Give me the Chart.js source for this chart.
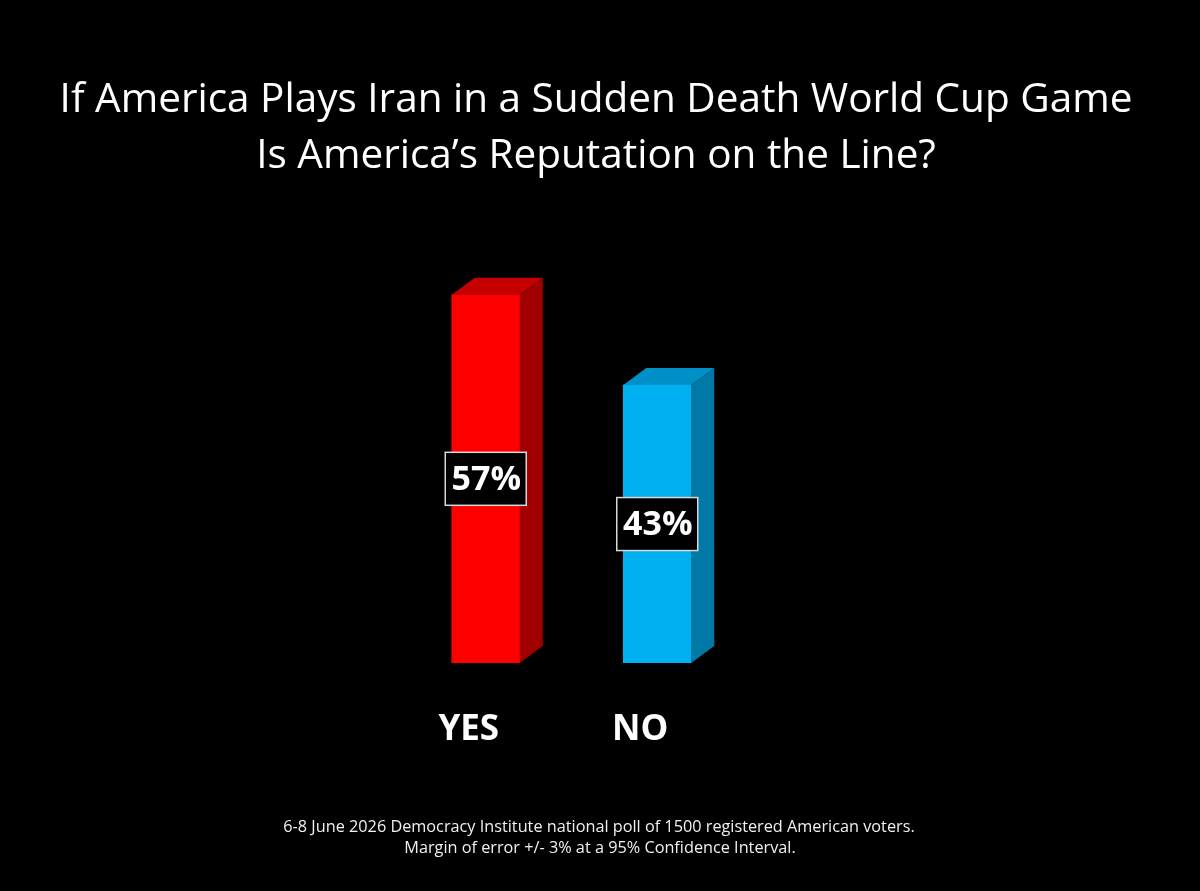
<!DOCTYPE html>
<html>
<head>
<meta charset="utf-8">
<script src="https://cdn.jsdelivr.net/npm/chart.js@4.4.1/dist/chart.umd.min.js"></script>
<style>
  html, body { margin: 0; padding: 0; background: #000; }
  #wrap { width: 1200px; height: 891px; }
</style>
</head>
<body>
<div id="wrap"><canvas id="c" width="1200" height="891"></canvas></div>
<script>
// ---- data ----
const categories = ['YES', 'NO'];
const values = [57, 43];
const valueLabels = ['57%', '43%'];
const titleLines = [
  'If America Plays Iran in a Sudden Death World Cup Game',
  'Is America\u2019s Reputation on the Line?'
];
const noteLines = [
  '6-8 June 2026 Democracy Institute national poll of 1500 registered American voters.',
  'Margin of error +/- 3% at a 95% Confidence Interval.'
];

// ---- styles ----
const frontColors = ['#FF0000', '#00B0F0'];
const topColors = ['#C40000', '#0090C8'];
const sideColors = ['#A00000', '#0079A6'];
const FONT = '"Open Sans", "DejaVu Sans", sans-serif';
const DEPTH_X = 23, DEPTH_Y = -17;

function fitSize(ctx, text, weight, targetWidth) {
  ctx.font = weight + ' 100px ' + FONT;
  const w = ctx.measureText(text).width;
  return 100 * targetWidth / w;
}

const bgPlugin = {
  id: 'bg',
  beforeDraw(chart) {
    const ctx = chart.ctx;
    ctx.save();
    ctx.fillStyle = '#000';
    ctx.fillRect(0, 0, chart.width, chart.height);
    ctx.restore();
  }
};

const textPlugin = {
  id: 'texts',
  afterDraw(chart) {
    const ctx = chart.ctx;
    ctx.save();
    ctx.textAlign = 'center';
    ctx.textBaseline = 'alphabetic';
    // title
    const ts = fitSize(ctx, titleLines[0], 'normal', 1073);
    ctx.font = 'normal ' + ts + 'px ' + FONT;
    ctx.fillStyle = '#FFFFFF';
    ctx.fillText(titleLines[0], 596, 112);
    ctx.fillText(titleLines[1], 596, 168);
    // footnote
    const ns = fitSize(ctx, noteLines[0], 'normal', 632);
    ctx.font = 'normal ' + ns + 'px ' + FONT;
    ctx.fillStyle = '#F0F0F0';
    ctx.fillText(noteLines[0], 599, 832);
    ctx.fillText(noteLines[1], 600, 853);
    ctx.restore();
  }
};

const bar3dPlugin = {
  id: 'bar3d',
  afterDatasetsDraw(chart) {
    const ctx = chart.ctx;
    const meta = chart.getDatasetMeta(0);
    meta.data.forEach((bar, i) => {
      const p = bar.getProps(['x', 'y', 'base', 'width'], true);
      const l = p.x - p.width / 2, r = p.x + p.width / 2;
      const t = p.y, b = p.base;
      ctx.save();
      // top face
      ctx.fillStyle = topColors[i];
      ctx.beginPath();
      ctx.moveTo(l, t);
      ctx.lineTo(r, t);
      ctx.lineTo(r + DEPTH_X, t + DEPTH_Y);
      ctx.lineTo(l + DEPTH_X, t + DEPTH_Y);
      ctx.closePath();
      ctx.fill();
      // side face
      ctx.fillStyle = sideColors[i];
      ctx.beginPath();
      ctx.moveTo(r, t);
      ctx.lineTo(r + DEPTH_X, t + DEPTH_Y);
      ctx.lineTo(r + DEPTH_X, b + DEPTH_Y);
      ctx.lineTo(r, b);
      ctx.closePath();
      ctx.fill();
      // value label box
      const cy = (t + b) / 2;
      const bw = 81, bh = 53;
      ctx.fillStyle = '#000';
      ctx.fillRect(p.x - bw / 2, cy - bh / 2, bw, bh);
      ctx.strokeStyle = '#D8D8D8';
      ctx.lineWidth = 1.5;
      ctx.strokeRect(p.x - bw / 2, cy - bh / 2, bw, bh);
      ctx.fillStyle = '#FFFFFF';
      ctx.font = 'bold 34px ' + FONT;
      ctx.textAlign = 'center';
      ctx.textBaseline = 'middle';
      ctx.fillText(valueLabels[i], p.x + 0.5, cy + 1);
      ctx.restore();
    });
  }
};

new Chart(document.getElementById('c'), {
  type: 'bar',
  data: {
    labels: categories,
    datasets: [{
      data: values,
      backgroundColor: frontColors,
      borderWidth: 0,
      barThickness: 68
    }]
  },
  options: {
    responsive: false,
    animation: false,
    devicePixelRatio: 1,
    layout: { padding: { left: 400, right: 457, top: 230, bottom: 0 } },
    plugins: {
      legend: { display: false },
      title: { display: false },
      tooltip: { enabled: false }
    },
    scales: {
      y: { display: false, min: 0, max: 67 },
      x: {
        offset: true,
        grid: { display: false, drawTicks: false },
        border: { display: false },
        ticks: {
          color: '#FFFFFF',
          font: { family: FONT, size: 35, weight: 'bold' },
          padding: 46,
          labelOffset: -17
        },
        afterFit(scale) { scale.height = 228; }
      }
    }
  },
  plugins: [bgPlugin, bar3dPlugin, textPlugin]
});
</script>
</body>
</html>
